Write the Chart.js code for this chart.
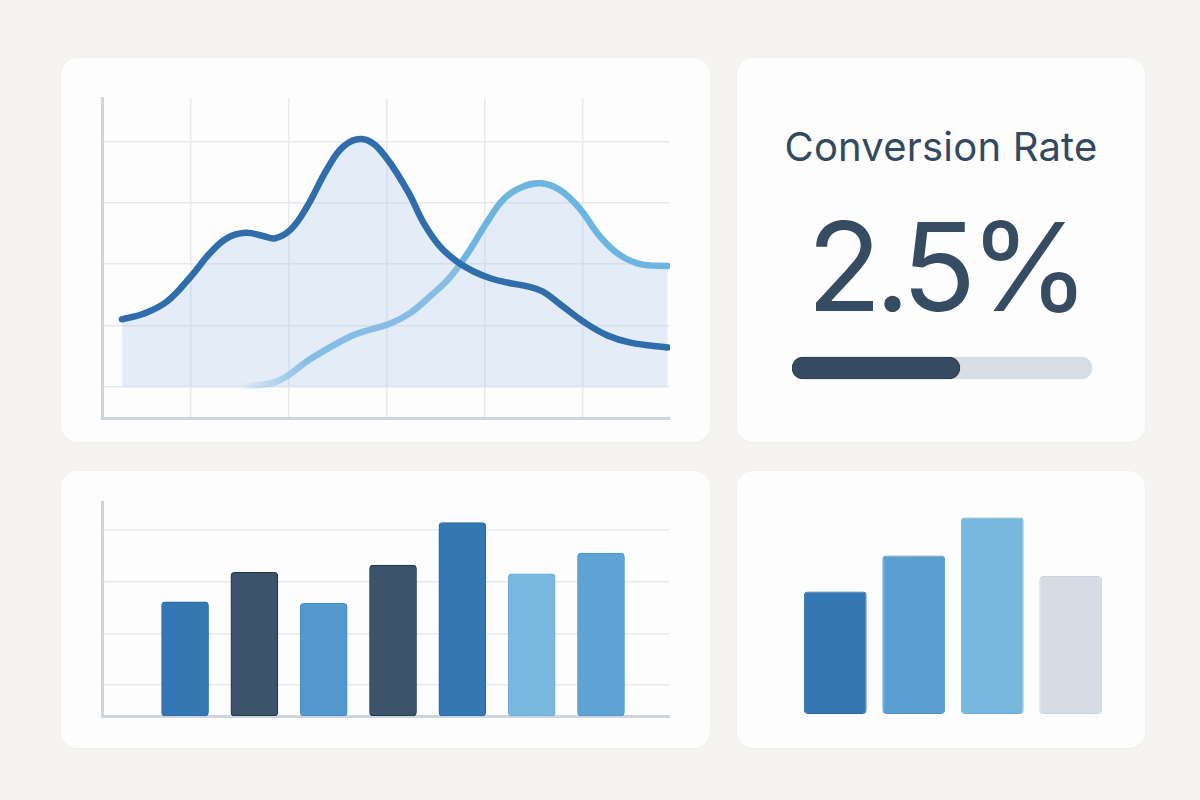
<!DOCTYPE html>
<html>
<head>
<meta charset="utf-8">
<script src="https://cdn.jsdelivr.net/npm/chart.js@4.4.1/dist/chart.umd.min.js"></script>
<style>
  html, body { margin: 0; padding: 0; }
  body { width: 1200px; height: 800px; background: #f5f4f1; position: relative; overflow: hidden; font-family: Inter, "Noto Sans", sans-serif; }
  .card { position: absolute; background: #fdfdfd; border-radius: 16px; box-shadow: 0 0 0 1px rgba(0,0,0,0.012), 0 1px 3px rgba(0,0,0,0.025); }
  canvas { position: absolute; }
  .kpi-title { position: absolute; left: 737px; width: 408px; text-align: center; top: 127px; font-size: 40px; line-height: 40px; color: #33495f; font-weight: 400; letter-spacing: 0.2px; }
  .kpi-value { position: absolute; left: 737px; width: 416px; text-align: center; top: 205px; font-size: 123px; line-height: 123px; color: #364c63; font-weight: 400; letter-spacing: -7px; }
</style>
</head>
<body>
<div class="card" style="left:61px;top:58px;width:649px;height:384px;"></div>
<div class="card" style="left:737px;top:58px;width:408px;height:384px;"></div>
<div class="card" style="left:61px;top:471px;width:649px;height:277px;"></div>
<div class="card" style="left:737px;top:471px;width:408px;height:277px;"></div>

<canvas id="lineChart" width="649" height="384" style="left:61px;top:58px;width:649px;height:384px;"></canvas>
<div class="kpi-title" id="kpiTitle"></div>
<div class="kpi-value" id="kpiValue"></div>
<canvas id="progressChart" width="300" height="36" style="left:792px;top:350px;width:300px;height:36px;"></canvas>
<canvas id="barChart" width="649" height="277" style="left:61px;top:471px;width:649px;height:277px;"></canvas>
<canvas id="miniBarChart" width="408" height="277" style="left:737px;top:471px;width:408px;height:277px;"></canvas>

<script>
// ---------- DATA ----------
// Line chart (area) – dark series
const darkX = [0.30, 0.52, 0.76, 1.00, 1.20, 1.37, 1.56, 1.74, 1.86, 2.02, 2.19, 2.39, 2.56, 2.75, 2.93, 3.21, 3.38, 3.55, 3.72, 3.89, 4.06, 4.23, 4.46, 4.60, 4.80, 5.01, 5.25, 5.49, 5.87];
const darkY = [1.10, 1.19, 1.39, 1.79, 2.18, 2.42, 2.51, 2.46, 2.42, 2.56, 2.94, 3.54, 3.92, 4.04, 3.87, 3.21, 2.67, 2.28, 2.04, 1.88, 1.77, 1.70, 1.63, 1.55, 1.31, 1.06, 0.84, 0.72, 0.64];
// Line chart – light series
const lightX = [0.30, 1.49, 1.71, 1.87, 2.02, 2.21, 2.63, 2.83, 3.04, 3.24, 3.44, 3.65, 3.85, 4.02, 4.19, 4.36, 4.57, 4.77, 4.97, 5.18, 5.38, 5.59, 5.87];
const lightY = [0.00, 0.00, 0.03, 0.08, 0.21, 0.44, 0.82, 0.93, 1.03, 1.20, 1.47, 1.79, 2.23, 2.67, 3.05, 3.24, 3.32, 3.21, 2.91, 2.45, 2.15, 2.00, 1.97];
const lineXGrid = [1, 2, 3, 4, 5];
const lineYGrid = [0, 1, 2, 3, 4];

// KPI
const kpiTitle = "Conversion Rate";
const kpiValue = "2.5%";
const progressValue = [56];
const progressMax = [100];

// Bottom-left bar chart
const barPositions = [1, 2, 3, 4, 5, 6, 7];
const barValues = [22.1, 27.8, 21.8, 29.2, 37.4, 27.5, 31.5];
const barYGrid = [6, 16, 26, 36];

// Bottom-right bar chart
const miniCategories = ["A", "B", "C", "D"];
const miniValues = [61.2, 79.3, 98.3, 69.0];

// ---------- STYLES ----------
const axisColor = '#cdd5de';
const gridColor = '#e6e9ee';
const darkBlue = '#2f6dab';
const lightBlue = '#6cb5e0';
const areaFill = 'rgba(180,205,235,0.36)';

document.getElementById('kpiTitle').textContent = kpiTitle;
document.getElementById('kpiValue').textContent = kpiValue;

const noPlugins = { legend: { display: false }, tooltip: { enabled: false } };

// ---------- LINE CHART ----------
new Chart(document.getElementById('lineChart'), {
  type: 'line',
  data: {
    datasets: [
      {
        data: darkX.map((x, i) => ({ x, y: darkY[i] })),
        borderColor: darkBlue,
        borderWidth: 6.5,
        backgroundColor: areaFill,
        fill: 'origin',
        pointRadius: 0,
        tension: 0.4,
        borderCapStyle: 'round',
        borderJoinStyle: 'round',
        order: 0
      },
      {
        data: lightX.map((x, i) => ({ x, y: lightY[i] })),
        borderColor: (ctx) => {
          const chart = ctx.chart;
          const area = chart.chartArea;
          if (!area) return lightBlue;
          const xs = chart.scales.x;
          const x0 = xs.getPixelForValue(1.5);
          const x1 = xs.getPixelForValue(2.2);
          const g = chart.ctx.createLinearGradient(x0, 0, x1, 0);
          g.addColorStop(0, 'rgba(108,181,224,0)');
          g.addColorStop(1, 'rgba(108,181,224,1)');
          return g;
        },
        borderWidth: 6.5,
        fill: { target: 0, above: areaFill, below: 'rgba(0,0,0,0)' },
        pointRadius: 0,
        tension: 0.4,
        borderCapStyle: 'round',
        borderJoinStyle: 'round',
        order: 1
      }
    ]
  },
  options: {
    responsive: false,
    animation: false,
    layout: { padding: { left: 41, right: 40, top: 40, bottom: 24 } },
    plugins: noPlugins,
    scales: {
      x: {
        type: 'linear', min: 0.097, max: 5.893,
        afterBuildTicks: (s) => { s.ticks = lineXGrid.map(v => ({ value: v })); },
        ticks: { display: false },
        grid: { color: gridColor, lineWidth: 1.5, drawTicks: false },
        border: { color: axisColor, width: 3 }
      },
      y: {
        type: 'linear', min: -0.51, max: 4.71,
        afterBuildTicks: (s) => { s.ticks = lineYGrid.map(v => ({ value: v })); },
        ticks: { display: false },
        grid: { color: gridColor, lineWidth: 1.5, drawTicks: false },
        border: { color: axisColor, width: 3 }
      }
    }
  }
});

// ---------- PROGRESS BAR ----------
new Chart(document.getElementById('progressChart'), {
  type: 'bar',
  data: {
    labels: [''],
    datasets: [
      { data: progressValue, backgroundColor: '#364b61', borderColor: '#2c3f53', borderWidth: 1, grouped: false, barThickness: 22, borderRadius: 11, borderSkipped: false, order: 0 },
      { data: progressMax, backgroundColor: '#d7dee6', borderWidth: 0, grouped: false, barThickness: 22, borderRadius: 11, borderSkipped: false, order: 1 }
    ]
  },
  options: {
    indexAxis: 'y',
    responsive: false,
    animation: false,
    layout: { padding: 0 },
    plugins: noPlugins,
    scales: {
      x: { display: false, min: 0, max: 100 },
      y: { display: false }
    }
  }
});

// ---------- BAR CHART (bottom-left) ----------
const barColors = ['#3377b3', '#3b536b', '#5399cd', '#3b536b', '#3377b3', '#79b8df', '#5ea3d3'];
const barBorders = ['#2867a5', '#1f3346', '#428bc5', '#1f3346', '#2867a5', '#64aad9', '#4b94cc'];
new Chart(document.getElementById('barChart'), {
  type: 'bar',
  data: {
    datasets: [{
      data: barPositions.map((x, i) => ({ x, y: barValues[i] })),
      backgroundColor: barColors,
      borderColor: barBorders,
      borderWidth: 1,
      borderRadius: 4,
      borderSkipped: false,
      barThickness: 47
    }]
  },
  options: {
    responsive: false,
    animation: false,
    layout: { padding: { left: 41, right: 41, top: 31, bottom: 32 } },
    plugins: noPlugins,
    scales: {
      x: {
        type: 'linear', min: -0.198, max: 7.981, offset: false,
        ticks: { display: false },
        grid: { display: false, offset: false, drawTicks: false },
        border: { color: axisColor, width: 3 }
      },
      y: {
        type: 'linear', min: 0, max: 41.4,
        afterBuildTicks: (s) => { s.ticks = barYGrid.map(v => ({ value: v })); },
        ticks: { display: false },
        grid: { color: gridColor, lineWidth: 1.5, drawTicks: false },
        border: { color: axisColor, width: 3 }
      }
    }
  }
});

// ---------- MINI BAR CHART (bottom-right) ----------
new Chart(document.getElementById('miniBarChart'), {
  type: 'bar',
  data: {
    labels: miniCategories,
    datasets: [{
      data: miniValues,
      backgroundColor: ['#3577b3', '#599fd0', '#79b8de', '#d5dce5'],
      borderColor: ['#2964a2', '#4b92c8', '#65abd8', '#c9d2dd'],
      borderWidth: 1,
      borderRadius: 4,
      borderSkipped: false,
      barPercentage: 0.8,
      categoryPercentage: 1
    }]
  },
  options: {
    responsive: false,
    animation: false,
    layout: { padding: { left: 59, right: 35, top: 43, bottom: 34 } },
    plugins: noPlugins,
    scales: {
      x: { display: false },
      y: { display: false, min: 0, max: 100 }
    }
  }
});
</script>
</body>
</html>
